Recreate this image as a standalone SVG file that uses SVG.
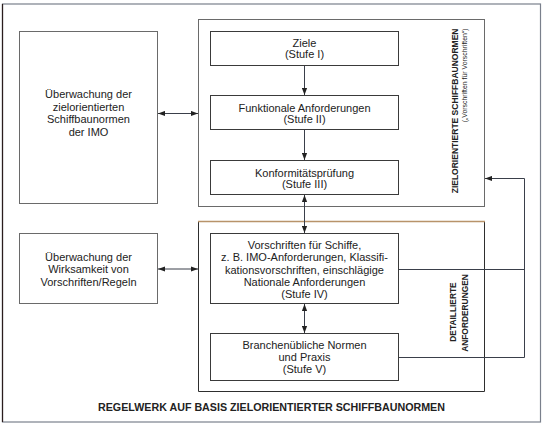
<svg xmlns="http://www.w3.org/2000/svg" width="546" height="428" viewBox="0 0 546 428">
<style>
  text { font-family: "Liberation Sans", Arial, sans-serif; fill: #222; }
  .t { font-size: 11px; text-anchor: middle; }
  .box { fill: #fff; stroke: #3a3a3a; stroke-width: 1; }
  .lbox { fill: #fff; stroke: #6a6a6a; stroke-width: 1; }
  .grp { fill: none; stroke: #6a6a6a; stroke-width: 1; }
  .vb { font-size: 8.5px; font-weight: bold; }
  .vs { font-size: 6.9px; }
  .con { fill: none; stroke: #3a3f4a; stroke-width: 1; }
</style>
<defs>
  <marker id="ah" markerUnits="userSpaceOnUse" markerWidth="7" markerHeight="6" refX="7" refY="3" orient="auto-start-reverse">
    <path d="M0,0.4 L7,3 L0,5.6 z" fill="#222"/>
  </marker>
</defs>
<rect width="546" height="428" fill="#fff"/>

<g id="frame">
  <rect x="2.5" y="4" width="538" height="418" fill="none" stroke="#7a808c" stroke-width="1.2"/>
  <line x1="2.5" y1="4" x2="2.5" y2="422" stroke="#2b1d1d" stroke-width="1.2"/>
  <text x="271.5" y="411" style="font-size:10.7px;font-weight:bold;text-anchor:middle">REGELWERK AUF BASIS ZIELORIENTIERTER SCHIFFBAUNORMEN</text>
</g>

<g id="group-upper">
  <rect class="grp" x="198.5" y="19.5" width="286" height="187"/>
  <text class="vb" transform="translate(457.5,28.5) rotate(-90)" text-anchor="end">ZIELORIENTIERTE SCHIFFBAUNORMEN</text>
  <text class="vs" transform="translate(466.7,28.5) rotate(-90)" text-anchor="end">(„Vorschriften für Vorschriften“)</text>
</g>

<g id="group-lower">
  <path d="M198.5,221.5 V391.5 H484.5 V221.5" fill="none" stroke="#2e2e2e" stroke-width="1"/>
  <line x1="198" y1="221.5" x2="485" y2="221.5" stroke="#b8936a" stroke-width="1.6"/>
  <text class="vb" transform="translate(455.8,312) rotate(-90)" text-anchor="middle" style="font-size:8.4px">DETAILLIERTE</text>
  <text class="vb" transform="translate(467.5,313) rotate(-90)" text-anchor="middle" style="font-size:8.4px">ANFORDERUNGEN</text>
</g>

<g id="node-imo">
  <rect class="lbox" x="19.5" y="31.5" width="138" height="172"/>
  <text class="t" x="88.5" y="98">Überwachung der</text>
  <text class="t" x="88.5" y="110.5">zielorientierten</text>
  <text class="t" x="88.5" y="123">Schiffbaunormen</text>
  <text class="t" x="88.5" y="135.5">der IMO</text>
</g>

<g id="node-wirksamkeit">
  <rect class="lbox" x="19.5" y="233.5" width="138" height="70"/>
  <text class="t" x="88.5" y="260.5">Überwachung der</text>
  <text class="t" x="88.5" y="273">Wirksamkeit von</text>
  <text class="t" x="88.5" y="285.5">Vorschriften/Regeln</text>
</g>

<g id="node-stufe1">
  <rect class="box" x="210.5" y="31.5" width="188" height="34"/>
  <text class="t" x="304.5" y="46.8">Ziele</text>
  <text class="t" x="304.5" y="58">(Stufe I)</text>
</g>

<g id="node-stufe2">
  <rect class="box" x="210.5" y="95.5" width="188" height="34"/>
  <text class="t" x="304.5" y="111.6">Funktionale Anforderungen</text>
  <text class="t" x="304.5" y="122.6">(Stufe II)</text>
</g>

<g id="node-stufe3">
  <rect class="box" x="210.5" y="160.5" width="188" height="34"/>
  <text class="t" x="304.5" y="176.8">Konformitätsprüfung</text>
  <text class="t" x="304.5" y="187.8">(Stufe III)</text>
</g>

<g id="node-stufe4">
  <rect class="box" x="210.5" y="233.5" width="188" height="70"/>
  <text class="t" x="304.5" y="248.8">Vorschriften für Schiffe,</text>
  <text class="t" x="304.5" y="261.2">z. B. IMO-Anforderungen, Klassifi-</text>
  <text class="t" x="304.5" y="273.6">kationsvorschriften, einschlägige</text>
  <text class="t" x="304.5" y="286">Nationale Anforderungen</text>
  <text class="t" x="304.5" y="298.2">(Stufe IV)</text>
</g>

<g id="node-stufe5">
  <rect class="box" x="210.5" y="333.5" width="188" height="47"/>
  <text class="t" x="304.5" y="349">Branchenübliche Normen</text>
  <text class="t" x="304.5" y="361.3">und Praxis</text>
  <text class="t" x="304.5" y="373.4">(Stufe V)</text>
</g>

<g id="connectors">
  <line class="con" x1="304.5" y1="66" x2="304.5" y2="95" marker-end="url(#ah)"/>
  <line class="con" x1="304.5" y1="130" x2="304.5" y2="160" marker-end="url(#ah)"/>
  <line class="con" x1="304.5" y1="195" x2="304.5" y2="233" marker-start="url(#ah)" marker-end="url(#ah)"/>
  <line class="con" x1="304.5" y1="304" x2="304.5" y2="333" marker-start="url(#ah)" marker-end="url(#ah)"/>
  <line class="con" x1="158" y1="113.5" x2="198" y2="113.5" marker-start="url(#ah)" marker-end="url(#ah)"/>
  <line class="con" x1="158" y1="269" x2="198" y2="269" marker-start="url(#ah)" marker-end="url(#ah)"/>
  <path class="con" d="M399,269.5 H524.5"/>
  <path class="con" d="M399,357.5 H524.5 V178.5 H485" marker-end="url(#ah)"/>
</g>
</svg>
